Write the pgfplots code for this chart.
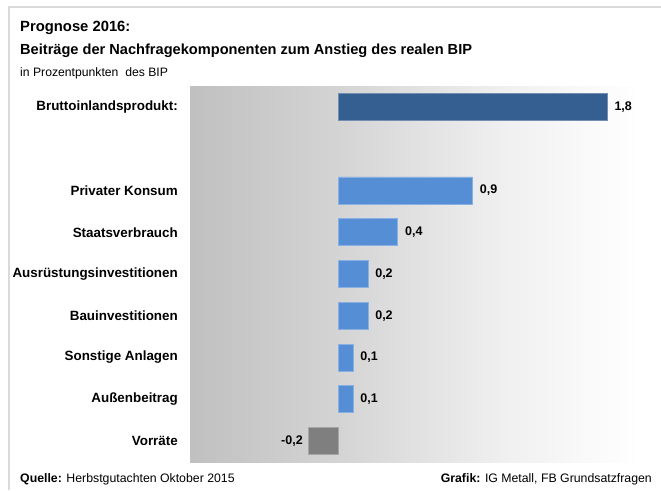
\documentclass[border=0pt]{standalone}
\usepackage{fontspec}
\setmainfont{Liberation Sans}
\usepackage{pgfplots}
\pgfplotsset{compat=1.18}
\definecolor{bipblue}{HTML}{365F91}
\definecolor{lblue}{HTML}{558ED5}
\definecolor{vgrey}{HTML}{7F7F7F}
\definecolor{cA}{HTML}{C0C0C0}
\definecolor{cB}{HTML}{D4D4D4}
\definecolor{cC}{HTML}{F0F0F0}
\definecolor{framegrey}{HTML}{DADADA}
\pgfdeclarehorizontalshading{panelshade}{100bp}{color(0bp)=(cA); color(25bp)=(cA); color(41.5bp)=(cB); color(60bp)=(cC); color(75bp)=(white); color(100bp)=(white)}
\begin{document}
\begin{tikzpicture}[x=1pt,y=1pt]
\path[use as bounding box] (0,0) rectangle (661,-490);
\draw[line width=1.5pt, framegrey] (9,-490) -- (9,-7) -- (661,-7);
\node[anchor=base west, inner sep=0pt, font=\bfseries\fontsize{14.8}{18}\selectfont] at (20,-31) {Prognose 2016:};
\node[anchor=base west, inner sep=0pt, font=\bfseries\fontsize{14.6}{18}\selectfont] at (20,-54) {Beiträge der Nachfragekomponenten zum Anstieg des realen BIP};
\node[anchor=base west, inner sep=0pt, font=\fontsize{12.2}{15}\selectfont] at (20,-76) {in Prozentpunkten\ \ des BIP};
\node[anchor=base west, inner sep=0pt, font=\fontsize{12.3}{14}\selectfont] at (20,-482) {\textbf{Quelle:} Herbstgutachten Oktober 2015};
\node[anchor=base east, inner sep=0pt, font=\fontsize{12.3}{14}\selectfont] at (652,-482) {\textbf{Grafik:} IG Metall, FB Grundsatzfragen};
\begin{axis}[
  at={(190pt,-86pt)}, anchor=north west,
  scale only axis, width=450pt, height=376pt,
  xmin=-0.99, xmax=2.02, ymin=-0.5, ymax=8.5,
  y dir=reverse,
  axis line style={draw=none},
  axis background/.style={shading=panelshade},
  xtick=\empty,
  ytick={0,2,3,4,5,6,7,8},
  yticklabels={Bruttoinlandsprodukt:,Privater Konsum,Staatsverbrauch,Ausrüstungsinvestitionen,Bauinvestitionen,Sonstige Anlagen,Außenbeitrag,Vorräte},
  major tick length=0pt,
  yticklabel style={font=\bfseries\fontsize{13.4}{15}\selectfont, anchor=east, inner sep=0pt, xshift=-12pt},
  xbar, bar width=27pt, bar shift=0pt,
  point meta=explicit symbolic,
  nodes near coords,
  every node near coord/.append style={font=\bfseries\fontsize{12.5}{15}\selectfont, inner sep=7pt, text=black, anchor=west},
  clip=false,
]
\addplot[fill=bipblue, draw=bipblue!70!white, line width=0.8pt] coordinates {(1.8,0) [1,8]};
\addplot[fill=lblue, draw=lblue!70!white, line width=0.8pt] coordinates {(0.9,2) [0,9] (0.4,3) [0,4] (0.2,4) [0,2] (0.2,5) [0,2] (0.1,6) [0,1] (0.1,7) [0,1]};
\addplot[fill=vgrey, draw=vgrey!70!white, line width=0.8pt, every node near coord/.append style={anchor=east, inner sep=5pt}] coordinates {(-0.2,8) [-0,2]};
\end{axis}
\end{tikzpicture}
\end{document}
